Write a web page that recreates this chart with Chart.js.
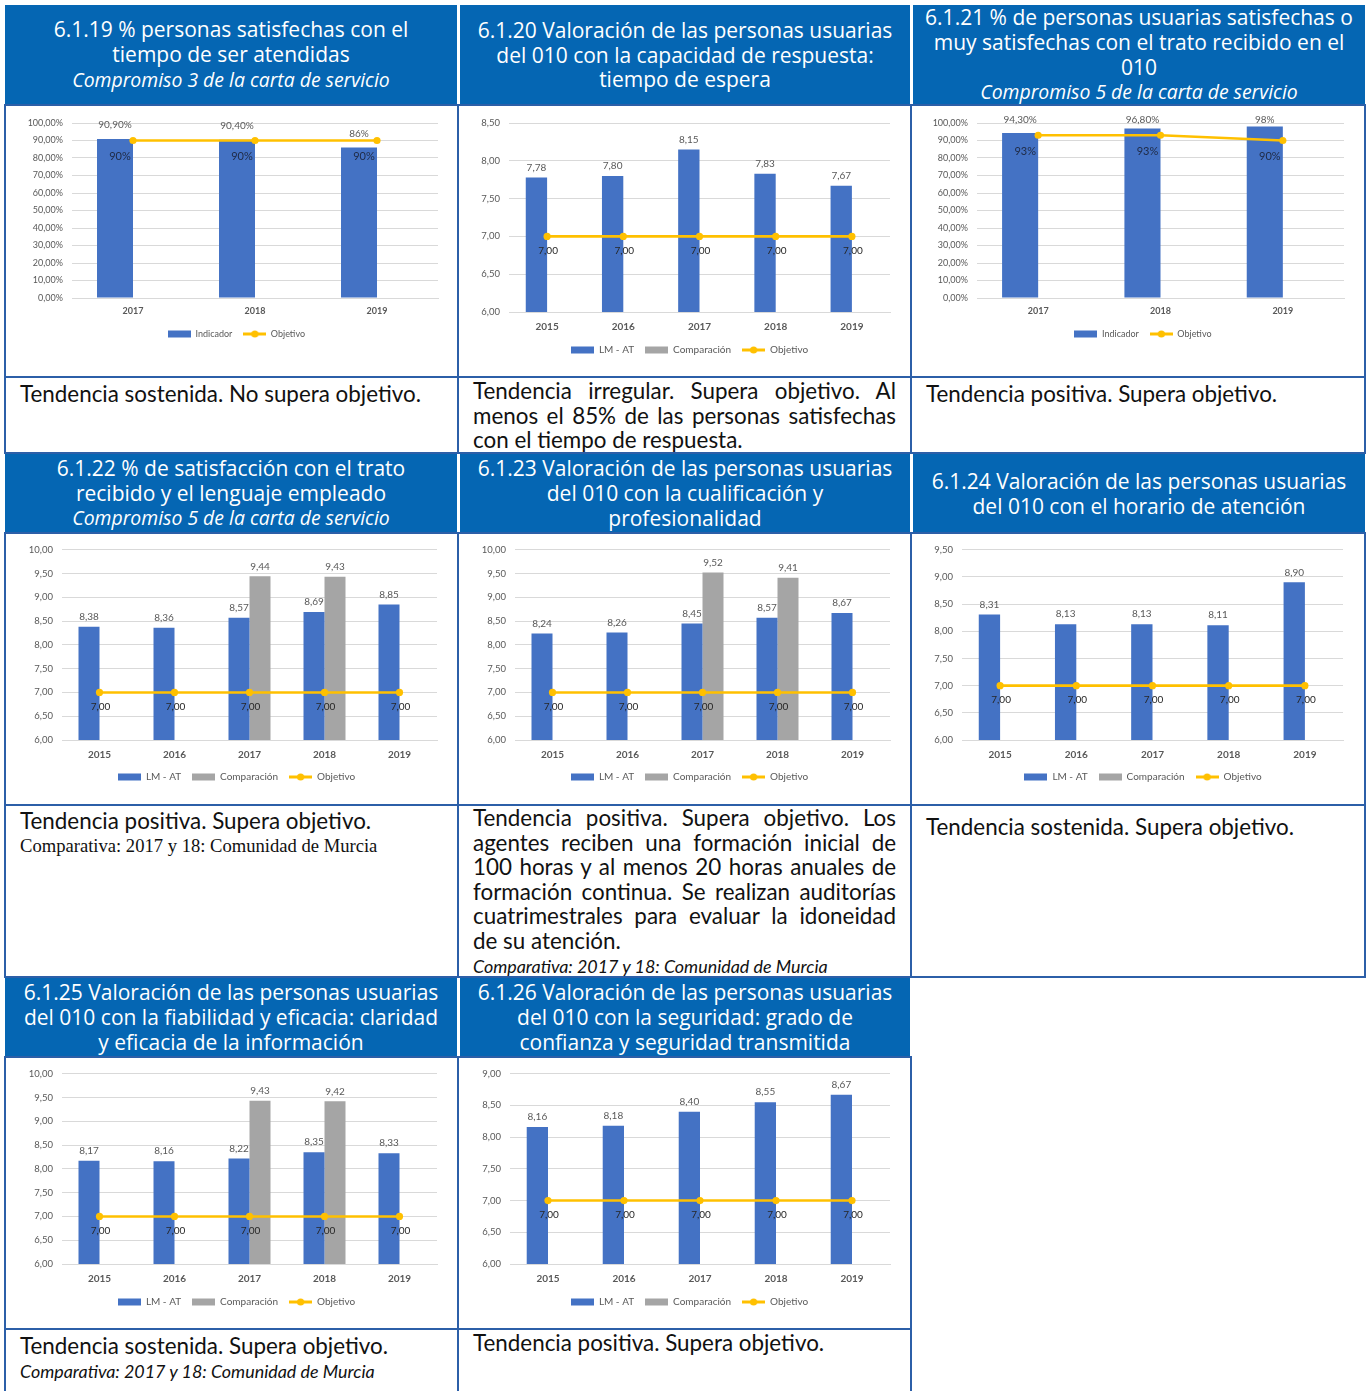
<!DOCTYPE html>
<html lang="es">
<head>
<meta charset="utf-8">
<title>Indicadores 010</title>
<script src="https://cdn.jsdelivr.net/npm/chart.js@4.4.1/dist/chart.umd.min.js"></script>
<style>
  html, body { margin: 0; padding: 0; background: #fff; }
  #page { position: relative; width: 1368px; height: 1391px; overflow: hidden; }
  .hdr { position: absolute; background: #0566b3; color: #fff; font-family: "Open Sans", sans-serif;
         font-size: 21px; line-height: 24.8px; text-align: center; display: flex; flex-direction: column;
         justify-content: center; white-space: nowrap; }
  .hdr i { font-style: italic; font-size: 19.4px; }
  .cell { position: absolute; border: 2px solid #2c5fa8; box-sizing: border-box; }
  .txt { position: absolute; font-family: Lato, sans-serif; font-size: 22.4px; line-height: 24.6px; color: #111; white-space: nowrap; }
  .just div { text-align: justify; text-align-last: justify; white-space: normal; }
  .just div.last { text-align-last: left; }
  .note { font-family: Lato, sans-serif; font-style: italic; font-size: 17.9px; }
  .serif { font-family: "Liberation Serif", serif; font-size: 18.6px; }
  canvas { position: absolute; }
</style>
</head>
<body>
<div id="page">
  <!-- row 1 -->
  <div class="hdr" style="left:5px;top:5px;width:452px;height:100px">
    <div>6.1.19 % personas satisfechas con el</div><div>tiempo de ser atendidas</div><div><i>Compromiso 3 de la carta de servicio</i></div>
  </div>
  <div class="hdr" style="left:460px;top:5px;width:450px;height:100px">
    <div>6.1.20 Valoración de las personas usuarias</div><div>del 010 con la capacidad de respuesta:</div><div>tiempo de espera</div>
  </div>
  <div class="hdr" style="left:913px;top:5px;width:452px;height:100px">
    <div>6.1.21 % de personas usuarias satisfechas o</div><div>muy satisfechas con el trato recibido en el</div><div>010</div><div><i>Compromiso 5 de la carta de servicio</i></div>
  </div>
  <div class="cell" style="left:4px;top:104px;width:455px;height:274px"></div>
  <div class="cell" style="left:457px;top:104px;width:455px;height:274px"></div>
  <div class="cell" style="left:910px;top:104px;width:456px;height:274px"></div>
  <div class="cell" style="left:4px;top:376px;width:455px;height:78px"></div>
  <div class="cell" style="left:457px;top:376px;width:455px;height:78px"></div>
  <div class="cell" style="left:910px;top:376px;width:456px;height:78px"></div>

  <!-- row 2 -->
  <div class="hdr" style="left:5px;top:454px;width:452px;height:79px">
    <div>6.1.22 % de satisfacción con el trato</div><div>recibido y el lenguaje empleado</div><div><i>Compromiso 5 de la carta de servicio</i></div>
  </div>
  <div class="hdr" style="left:460px;top:454px;width:450px;height:79px">
    <div>6.1.23 Valoración de las personas usuarias</div><div>del 010 con la cualificación y</div><div>profesionalidad</div>
  </div>
  <div class="hdr" style="left:913px;top:454px;width:452px;height:79px">
    <div>6.1.24 Valoración de las personas usuarias</div><div>del 010 con el horario de atención</div>
  </div>
  <div class="cell" style="left:4px;top:532px;width:455px;height:274px"></div>
  <div class="cell" style="left:457px;top:532px;width:455px;height:274px"></div>
  <div class="cell" style="left:910px;top:532px;width:456px;height:274px"></div>
  <div class="cell" style="left:4px;top:804px;width:455px;height:174px"></div>
  <div class="cell" style="left:457px;top:804px;width:455px;height:174px"></div>
  <div class="cell" style="left:910px;top:804px;width:456px;height:174px"></div>

  <!-- row 3 -->
  <div class="hdr" style="left:5px;top:978px;width:452px;height:79px">
    <div>6.1.25 Valoración de las personas usuarias</div><div>del 010 con la fiabilidad y eficacia: claridad</div><div>y eficacia de la información</div>
  </div>
  <div class="hdr" style="left:460px;top:978px;width:450px;height:79px">
    <div>6.1.26 Valoración de las personas usuarias</div><div>del 010 con la seguridad: grado de</div><div>confianza y seguridad transmitida</div>
  </div>
  <div class="cell" style="left:4px;top:1056px;width:455px;height:274px"></div>
  <div class="cell" style="left:457px;top:1056px;width:455px;height:274px"></div>
  <div class="cell" style="left:4px;top:1328px;width:455px;height:80px"></div>
  <div class="cell" style="left:457px;top:1328px;width:455px;height:80px"></div>

  <!-- texts -->
  <div class="txt" style="left:20px;top:382px">Tendencia sostenida. No supera objetivo.</div>
  <div class="txt just" style="left:473px;top:379px;width:423px">
    <div>Tendencia irregular. Supera objetivo. Al</div>
    <div>menos el 85% de las personas satisfechas</div>
    <div class="last">con el tiempo de respuesta.</div>
  </div>
  <div class="txt" style="left:926px;top:382px">Tendencia positiva. Supera objetivo.</div>

  <div class="txt" style="left:20px;top:809px">Tendencia positiva. Supera objetivo.<div class="serif">Comparativa: 2017 y 18: Comunidad de Murcia</div></div>
  <div class="txt just" style="left:473px;top:806px;width:423px">
    <div>Tendencia positiva. Supera objetivo. Los</div>
    <div>agentes reciben una formación inicial de</div>
    <div>100 horas y al menos 20 horas anuales de</div>
    <div>formación continua. Se realizan auditorías</div>
    <div>cuatrimestrales para evaluar la idoneidad</div>
    <div class="last">de su atención.</div>
    <div class="last note">Comparativa: 2017 y 18: Comunidad de Murcia</div>
  </div>
  <div class="txt" style="left:926px;top:815px">Tendencia sostenida. Supera objetivo.</div>

  <div class="txt" style="left:20px;top:1334px">Tendencia sostenida. Supera objetivo.<div class="note">Comparativa: 2017 y 18: Comunidad de Murcia</div></div>
  <div class="txt" style="left:473px;top:1331px">Tendencia positiva. Supera objetivo.</div>

  <canvas id="c6119"></canvas>
  <canvas id="c6120"></canvas>
  <canvas id="c6121"></canvas>
  <canvas id="c6122"></canvas>
  <canvas id="c6123"></canvas>
  <canvas id="c6124"></canvas>
  <canvas id="c6125"></canvas>
  <canvas id="c6126"></canvas>
</div>

<script>
// categories
const years3 = ["2017", "2018", "2019"];
const years5 = ["2015", "2016", "2017", "2018", "2019"];

// 6.1.19 % satisfechas con el tiempo de ser atendidas
const ind6119 = [90.9, 90.4, 86];
const obj6119 = [90, 90, 90];
// 6.1.20 capacidad de respuesta
const lm6120 = [7.78, 7.80, 8.15, 7.83, 7.67];
const cmp6120 = [null, null, null, null, null];
const obj6120 = [7, 7, 7, 7, 7];
// 6.1.21 % satisfechas con el trato
const ind6121 = [94.3, 96.8, 98];
const obj6121 = [93, 93, 90];
// 6.1.22 satisfaccion trato y lenguaje
const lm6122 = [8.38, 8.36, 8.57, 8.69, 8.85];
const cmp6122 = [null, null, 9.44, 9.43, null];
const obj6122 = [7, 7, 7, 7, 7];
// 6.1.23 cualificacion y profesionalidad
const lm6123 = [8.24, 8.26, 8.45, 8.57, 8.67];
const cmp6123 = [null, null, 9.52, 9.41, null];
const obj6123 = [7, 7, 7, 7, 7];
// 6.1.24 horario de atencion
const lm6124 = [8.31, 8.13, 8.13, 8.11, 8.90];
const cmp6124 = [null, null, null, null, null];
const obj6124 = [7, 7, 7, 7, 7];
// 6.1.25 fiabilidad y eficacia
const lm6125 = [8.17, 8.16, 8.22, 8.35, 8.33];
const cmp6125 = [null, null, 9.43, 9.42, null];
const obj6125 = [7, 7, 7, 7, 7];
// 6.1.26 seguridad
const lm6126 = [8.16, 8.18, 8.40, 8.55, 8.67];
const cmp6126 = [null, null, null, null, null];
const obj6126 = [7, 7, 7, 7, 7];

// y axis ranges: [min, max, step]
const axisPct = [0, 100, 10];
const axis6120 = [6, 8.5, 0.5];
const axis6122 = [6, 10, 0.5];
const axis6123 = [6, 10, 0.5];
const axis6124 = [6, 9.5, 0.5];
const axis6125 = [6, 10, 0.5];
const axis6126 = [6, 9, 0.5];

const BLUE = "#4472c4", GREY = "#a5a5a5", YELLOW = "#ffc000";
const FONT = "Lato, sans-serif";

const dec = v => v.toFixed(2).replace(".", ",");
const pct = v => Number.isInteger(v) ? v + "%" : dec(v) + "%";

function icon(kind, color) {
  const c = document.createElement("canvas");
  c.width = 23; c.height = 8;
  const g = c.getContext("2d");
  g.fillStyle = color;
  g.strokeStyle = color;
  if (kind === "bar") {
    g.fillRect(0, 0.5, 23, 7);
  } else {
    g.lineWidth = 3;
    g.beginPath(); g.moveTo(0, 4); g.lineTo(23, 4); g.stroke();
    g.beginPath(); g.arc(11.5, 4, 3.6, 0, Math.PI * 2); g.fill();
  }
  return c;
}

// draws value labels above bars and below objective points
const valueLabels = {
  id: "valueLabels",
  afterDatasetsDraw(chart, args, o) {
    const ctx = chart.ctx;
    ctx.save();
    ctx.textAlign = "center";
    ctx.textBaseline = "middle";
    chart.data.datasets.forEach((ds, i) => {
      const meta = chart.getDatasetMeta(i);
      meta.data.forEach((el, j) => {
        const v = ds.data[j];
        if (v == null) return;
        if (ds.type === "line") {
          ctx.font = o.objFont;
          ctx.fillStyle = o.objColor;
          ctx.fillText(o.fmt(v), el.x + o.objDx, el.y + o.objDy);
        } else {
          ctx.font = "10px " + FONT;
          ctx.fillStyle = "#595959";
          const y = Math.max(el.y - o.barDy, chart.chartArea.top - 3);
          ctx.fillText(o.fmt(v), el.x, y);
        }
      });
    });
    ctx.restore();
  }
};

function makeChart(id, box, geo, labels, series, axis, opts) {
  const cv = document.getElementById(id);
  const W = box.w, H = box.h;
  cv.style.left = box.x + "px";
  cv.style.top = box.y + "px";
  cv.width = W; cv.height = H;
  cv.style.width = W + "px"; cv.style.height = H + "px";

  const left = geo.left - box.x, right = geo.right - box.x;
  const top = geo.top - box.y, bottom = geo.bottom - box.y;
  const legPad = 11;
  const legFont = opts.legendSize;
  const legendH = legFont + legPad + 10;
  const xH = (geo.legend - geo.bottom) - legPad - legFont / 2;
  const padB = H - (bottom + xH + legendH);

  const datasets = [
    { type: "bar", label: series.barLabel, data: series.bar, backgroundColor: BLUE, order: 1,
      categoryPercentage: opts.catPct, barPercentage: 1, icon: icon("bar", BLUE) },
    { type: "bar", label: "Comparación", data: series.cmp, backgroundColor: GREY, order: 1,
      categoryPercentage: opts.catPct, barPercentage: 1, icon: icon("bar", GREY), noLegend: series.noCmp },
    { type: "line", label: "Objetivo", data: series.obj, borderColor: YELLOW, backgroundColor: YELLOW,
      borderWidth: 2.6, pointRadius: 3.6, pointBackgroundColor: YELLOW, pointBorderWidth: 0,
      order: 0, icon: icon("line", YELLOW) }
  ];

  return new Chart(cv, {
    type: "bar",
    data: { labels: labels, datasets: datasets },
    plugins: [valueLabels],
    options: {
      responsive: false,
      animation: false,
      layout: { padding: { left: 10, right: 0, top: top, bottom: padB } },
      scales: {
        x: {
          grid: { display: false, drawTicks: false },
          border: { color: "#d9d9d9" },
          ticks: { color: "#595959", font: { family: FONT, size: opts.xSize, weight: "bold" }, padding: opts.xPad },
          afterFit: s => { s.height = xH; }
        },
        y: {
          min: axis[0], max: axis[1],
          grid: { color: "#d9d9d9", drawTicks: false },
          border: { display: false },
          ticks: { stepSize: axis[2], autoSkip: false, padding: 9, color: "#595959",
                   font: { family: FONT, size: opts.ySize }, callback: opts.tick },
          afterFit: s => { s.width = left - 10; }
        },
        yR: {
          position: "right", display: true,
          grid: { display: false }, border: { display: false }, ticks: { display: false },
          afterFit: s => { s.width = W - right; }
        }
      },
      plugins: {
        legend: {
          position: "bottom",
          labels: {
            usePointStyle: true, pointStyleWidth: 23, padding: legPad,
            color: "#595959", font: { family: FONT, size: legFont },
            generateLabels: ch => ch.data.datasets
              .map((ds, i) => ({ text: ds.label, pointStyle: ds.icon, datasetIndex: i, hidden: false,
                                 fontColor: "#595959", lineWidth: 0, strokeStyle: "rgba(0,0,0,0)", noLegend: ds.noLegend }))
              .filter(it => !it.noLegend)
          }
        },
        tooltip: { enabled: false },
        valueLabels: opts.labels
      }
    }
  });
}

const pctOpts = {
  catPct: 0.59, xSize: 9, ySize: 9, legendSize: 9, xPad: 8, tick: v => pct(v).replace(/^(\d+)%$/, "$1,00%"),
  labels: { fmt: pct, barDy: 14, objDx: -13, objDy: 16, objFont: "11px " + FONT, objColor: "#1f2a44" }
};
const decOpts = {
  catPct: 0.56, xSize: 10, ySize: 9.5, legendSize: 10, xPad: 9, tick: v => dec(v),
  labels: { fmt: dec, barDy: 10, objDx: 1, objDy: 14, objFont: "10px " + FONT, objColor: "#262626" }
};

const col1 = { x: 7, w: 449 }, col2 = { x: 460, w: 449 }, col3 = { x: 913, w: 450 };
const row1 = { y: 107, h: 268 }, row2 = { y: 535, h: 268 }, row3 = { y: 1059, h: 268 };
const box = (c, r) => ({ x: c.x, w: c.w, y: r.y, h: r.h });

makeChart("c6119", box(col1, row1), { left: 72, right: 438, top: 123, bottom: 298, legend: 334 }, years3,
  { barLabel: "Indicador", bar: ind6119, cmp: [null, null, null], obj: obj6119, noCmp: true }, axisPct, pctOpts);
makeChart("c6120", box(col2, row1), { left: 509, right: 890, top: 123, bottom: 312, legend: 350 }, years5,
  { barLabel: "LM - AT", bar: lm6120, cmp: cmp6120, obj: obj6120 }, axis6120, decOpts);
makeChart("c6121", box(col3, row1), { left: 977, right: 1344, top: 123, bottom: 298, legend: 334 }, years3,
  { barLabel: "Indicador", bar: ind6121, cmp: [null, null, null], obj: obj6121, noCmp: true }, axisPct, pctOpts);
makeChart("c6122", box(col1, row2), { left: 62, right: 437, top: 549, bottom: 740, legend: 777 }, years5,
  { barLabel: "LM - AT", bar: lm6122, cmp: cmp6122, obj: obj6122 }, axis6122, decOpts);
makeChart("c6123", box(col2, row2), { left: 515, right: 890, top: 549, bottom: 740, legend: 777 }, years5,
  { barLabel: "LM - AT", bar: lm6123, cmp: cmp6123, obj: obj6123 }, axis6123, decOpts);
makeChart("c6124", box(col3, row2), { left: 962, right: 1343, top: 549, bottom: 740, legend: 777 }, years5,
  { barLabel: "LM - AT", bar: lm6124, cmp: cmp6124, obj: obj6124 }, axis6124, decOpts);
makeChart("c6125", box(col1, row3), { left: 62, right: 437, top: 1073, bottom: 1264, legend: 1302 }, years5,
  { barLabel: "LM - AT", bar: lm6125, cmp: cmp6125, obj: obj6125 }, axis6125, decOpts);
makeChart("c6126", box(col2, row3), { left: 510, right: 890, top: 1073, bottom: 1264, legend: 1302 }, years5,
  { barLabel: "LM - AT", bar: lm6126, cmp: cmp6126, obj: obj6126 }, axis6126, decOpts);
</script>
</body>
</html>
